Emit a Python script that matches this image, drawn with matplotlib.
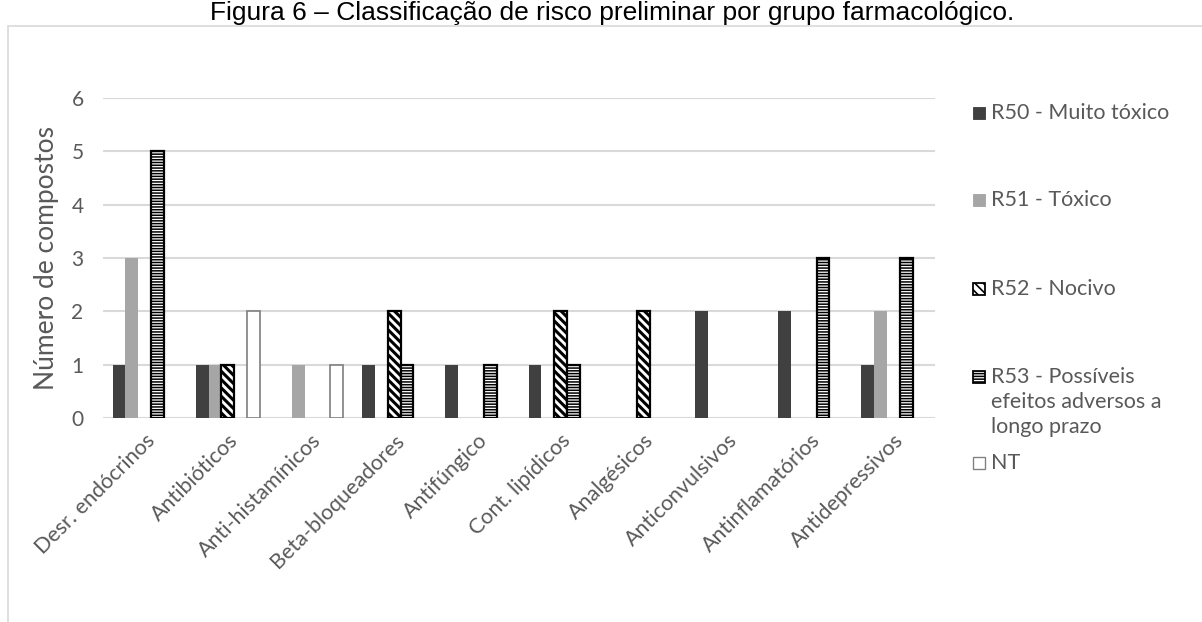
#!/usr/bin/env python3
"""Grouped bar chart: preliminary risk class per pharmacological group."""
import matplotlib

matplotlib.use("Agg")
import matplotlib.pyplot as plt
import numpy as np
from matplotlib.patches import Rectangle

categories = [
    "Desr. endócrinos", "Antibióticos", "Anti-histamínicos", "Beta-bloqueadores",
    "Antifúngico", "Cont. lipídicos", "Analgésicos", "Anticonvulsivos",
    "Antinflamatórios", "Antidepressivos",
]
series_names = [
    "R50 - Muito tóxico",
    "R51 - Tóxico",
    "R52 - Nocivo",
    "R53 - Possíveis\nefeitos adversos a\nlongo prazo",
    "NT",
]
r50 = [1, 1, 0, 1, 1, 1, 0, 2, 2, 1]
r51 = [3, 1, 1, 0, 0, 0, 0, 0, 0, 2]
r52 = [0, 1, 0, 2, 0, 2, 2, 0, 0, 0]
r53 = [5, 0, 0, 1, 1, 1, 0, 0, 3, 3]
nt = [0, 2, 1, 0, 0, 0, 0, 0, 0, 0]
yticks = [0, 1, 2, 3, 4, 5, 6]

styles = [
    dict(color="#404040", edgecolor="#404040", hatch=None, lw=0, hlw=1.0),
    dict(color="#a6a6a6", edgecolor="#a6a6a6", hatch=None, lw=0, hlw=1.0),
    dict(color="white", edgecolor="black", hatch="\\\\\\\\", lw=1.6, hlw=2.2),
    dict(color="white", edgecolor="black", hatch="------", lw=1.6, hlw=1.1),
    dict(color="white", edgecolor="#7f7f7f", hatch=None, lw=1.2, hlw=1.0),
]

FONT = "Lato"
TXT = "#595959"

W, H = 1202, 622
fig = plt.figure(figsize=(W / 100, H / 100), dpi=100)
ax = fig.add_axes([103 / W, 1 - 418 / H, 832 / W, 320 / H])

x = np.arange(len(categories))
bw = 0.154
for j, (vals, st) in enumerate(zip([r50, r51, r52, r53, nt], styles)):
    heights = np.array(vals, dtype=float)
    heights[heights == 0] = np.nan  # Excel leaves empty slots for zero counts
    with plt.rc_context({"hatch.linewidth": st["hlw"]}):
        bars = ax.bar(x + (j - 2) * bw, heights, width=bw, color=st["color"],
                      edgecolor=st["edgecolor"], hatch=st["hatch"], linewidth=st["lw"], zorder=3)
    for b in bars:
        if hasattr(b, "set_hatch_linewidth"):
            b.set_hatch_linewidth(st["hlw"])

ax.set_xlim(-0.5, len(categories) - 0.5)
ax.set_ylim(0, 6)
ax.set_yticks(yticks)
ax.set_yticklabels([str(v) for v in yticks], fontsize=15, color=TXT, family=FONT)
ax.set_xticks(x)
ax.set_xticklabels(categories, rotation=45, ha="right", rotation_mode="anchor",
                   fontsize=15.5, color=TXT, family=FONT)
ax.tick_params(length=0, pad=14, axis="y")
ax.tick_params(length=0, pad=9, axis="x")
ax.grid(axis="y", color="#d9d9d9", linewidth=1.5, zorder=0)
for s in ax.spines.values():
    s.set_visible(False)
ax.set_ylabel("Número de compostos", fontsize=19, color=TXT, family=FONT, labelpad=9)

# outer chart frame (runs off the right and bottom edges)
fig.patches.append(Rectangle((8 / W, -0.05), 1.0, 1 - 26 / H + 0.05, transform=fig.transFigure,
                             fill=False, edgecolor="#d9d9d9", linewidth=1.2, zorder=0))

fig.text(612 / W, 1 - 1 / H, "Figura 6 – Classificação de risco preliminar por grupo farmacológico.",
         ha="center", va="top", fontsize=19, family="Liberation Sans", color="black")

# legend, laid out like the source
leg_y = [113, 200, 289, 377, 463]
for name, st, yy in zip(series_names, styles, leg_y):
    with plt.rc_context({"hatch.linewidth": min(st["hlw"], 1.2)}):
        fig.patches.append(Rectangle((973 / W, 1 - (yy + 6) / H), 12 / W, 12 / H,
                                     transform=fig.transFigure, facecolor=st["color"],
                                     edgecolor=st["edgecolor"] if st["lw"] else st["color"],
                                     hatch=st["hatch"], linewidth=max(st["lw"], 0.8) * 0.8))
    fig.text(991 / W, 1 - (yy - 10) / H, name, ha="left", va="top", fontsize=15.5,
             family=FONT, color=TXT, linespacing=1.3)

fig.savefig("out.png", dpi=100, facecolor="white")
